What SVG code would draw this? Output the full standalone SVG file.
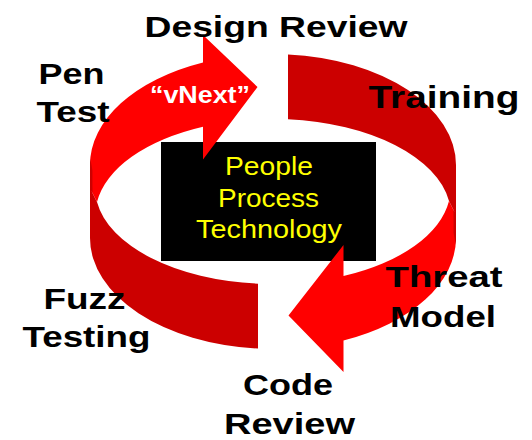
<svg xmlns="http://www.w3.org/2000/svg" width="532" height="440" viewBox="0 0 532 440">
  <style>
    .bright { fill: #FF0000; }
    .dark { fill: #CC0000; }
    .lbl { font-family: "Liberation Sans", Arial, sans-serif; font-weight: bold; font-size: 30px; fill: #000000; }
    .core { font-family: "Liberation Sans", Arial, sans-serif; font-size: 25px; fill: #FFFF00; }
    .vnext { font-family: "Liberation Sans", Arial, sans-serif; font-weight: bold; font-size: 23px; fill: #FFFFFF; }
  </style>
  <rect width="532" height="440" fill="#FFFFFF"/>

  <g id="center-box">
    <rect x="161" y="142" width="215" height="119" fill="#000000"/>
    <text class="core" x="225" y="175" textLength="88" lengthAdjust="spacingAndGlyphs">People</text>
    <text class="core" x="218" y="206.5" textLength="101" lengthAdjust="spacingAndGlyphs">Process</text>
    <text class="core" x="196" y="237.5" textLength="146" lengthAdjust="spacingAndGlyphs">Technology</text>
  </g>

  <g id="connectors">
    <!-- back / lower dark bands -->
    <path class="dark" d="M258,283.7 A177.6,96 0 0 1 97,202 L90,188 L90,238 A183,111 0 0 0 258,348.6 Z"/>
    <path class="dark" d="M288,119.3 A177.6,96 0 0 1 449,201 L456,215 L456,165 A183,111 0 0 0 288,54.4 Z"/>
    <!-- bright arrows -->
    <path class="bright" d="M90,188 L90,165 A183,111 0 0 1 203,62.4 L203,35 L257.5,87 L203,159.5 L203,126.8 A177.6,96 0 0 0 97,202 Z"/>
    <path class="bright" d="M456,215 L456,238 A183,111 0 0 1 343.5,340.4 L343.5,372 L288.5,315.5 L343.5,245 L343.5,276.1 A177.6,96 0 0 0 449,201 Z"/>
    <!-- thin edge slivers -->
    <path class="dark" d="M90.2,158 L90,165 L90,190 L92.5,193 L92.4,170 Z"/>
    <path class="dark" d="M455.8,245 L456,238 L456,213 L453.5,210 L453.6,233 Z"/>
  </g>

  <g id="vnext">
    <text class="vnext" x="150" y="103.3" textLength="100" lengthAdjust="spacingAndGlyphs">“vNext”</text>
  </g>
  <g id="design-review">
    <text class="lbl" x="144.5" y="36.5" textLength="263" lengthAdjust="spacingAndGlyphs">Design Review</text>
  </g>
  <g id="training">
    <text class="lbl" x="368.5" y="108.3" textLength="151" lengthAdjust="spacingAndGlyphs" style="font-size:32px">Training</text>
  </g>
  <g id="threat-model">
    <text class="lbl" x="385.5" y="287" textLength="117" lengthAdjust="spacingAndGlyphs">Threat</text>
    <text class="lbl" x="390" y="326.5" textLength="106" lengthAdjust="spacingAndGlyphs">Model</text>
  </g>
  <g id="code-review">
    <text class="lbl" x="243" y="395" textLength="90" lengthAdjust="spacingAndGlyphs">Code</text>
    <text class="lbl" x="224" y="433.5" textLength="131" lengthAdjust="spacingAndGlyphs">Review</text>
  </g>
  <g id="fuzz-testing">
    <text class="lbl" x="43.5" y="308.5" textLength="82" lengthAdjust="spacingAndGlyphs">Fuzz</text>
    <text class="lbl" x="22.5" y="346.5" textLength="128" lengthAdjust="spacingAndGlyphs">Testing</text>
  </g>
  <g id="pen-test">
    <text class="lbl" x="38.5" y="83.5" textLength="66" lengthAdjust="spacingAndGlyphs">Pen</text>
    <text class="lbl" x="36.5" y="122" textLength="73" lengthAdjust="spacingAndGlyphs">Test</text>
  </g>
</svg>
